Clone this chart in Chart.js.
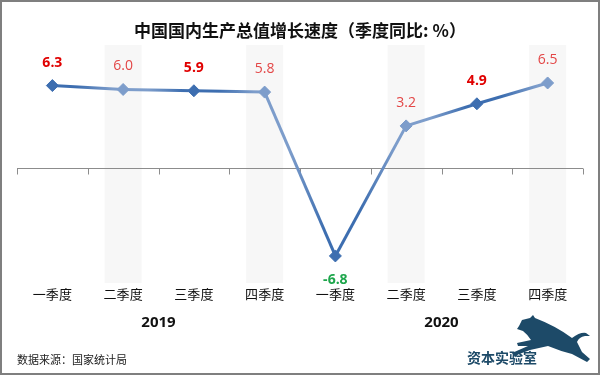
<!DOCTYPE html>
<html>
<head>
<meta charset="utf-8">
<script src="https://cdn.jsdelivr.net/npm/chart.js@4"></script>
<style>
  html, body { margin: 0; padding: 0; background: #fff; }
  #wrap { width: 600px; height: 375px; position: relative; }
</style>
</head>
<body>
<div id="wrap"><canvas id="c" width="600" height="375"></canvas></div>
<script>
// GDP growth by quarter, year-on-year %
const quarters = ['一季度', '二季度', '三季度', '四季度', '一季度', '二季度', '三季度', '四季度'];
const years = ['2019', '2020'];
const gdpGrowth = [6.3, 6.0, 5.9, 5.8, -6.8, 3.2, 4.9, 6.5];

const DARK = '#3d6eb0';
const LIGHT = '#7d9dcb';
const CJK = '"Noto Sans CJK SC", "Open Sans", sans-serif';
const NUM = '"Open Sans", "Noto Sans", sans-serif';

const el = document.getElementById('c');

// light grey column behind every second quarter
const bands = {
  id: 'bands',
  beforeDatasetsDraw(chart) {
    const { ctx, chartArea: a, scales: { x } } = chart;
    ctx.save();
    ctx.fillStyle = '#f7f7f7';
    quarters.forEach((q, i) => {
      if (i % 2 === 0) return;
      const px = x.getPixelForValue(i);
      ctx.fillRect(px - 18.5, a.top, 37, a.bottom - a.top);
    });
    // zero line with tick marks between categories
    const y0 = Math.round(chart.scales.y.getPixelForValue(0)) + 0.5;
    const w = x.getPixelForValue(1) - x.getPixelForValue(0);
    ctx.strokeStyle = '#8c8c8c';
    ctx.lineWidth = 1;
    ctx.beginPath();
    ctx.moveTo(a.left, y0);
    ctx.lineTo(a.right, y0);
    for (let i = 0; i <= quarters.length; i++) {
      const px = Math.round(x.getPixelForValue(i) - w / 2) + 0.5;
      ctx.moveTo(px, y0);
      ctx.lineTo(px, y0 + 6);
    }
    ctx.stroke();
    ctx.restore();
  }
};

const labels = {
  id: 'labels',
  afterDatasetsDraw(chart) {
    const { ctx } = chart;
    const pts = chart.getDatasetMeta(0).data;
    ctx.save();
    ctx.textAlign = 'center';
    ctx.textBaseline = 'middle';
    pts.forEach((p, i) => {
      const v = gdpGrowth[i];
      const bold = i % 2 === 0;
      ctx.font = (bold ? 'bold ' : '') + '14px ' + NUM;
      ctx.fillStyle = v < 0 ? '#1ea64c' : (bold ? '#e00000' : '#e34646');
      ctx.fillText(v.toFixed(1), p.x, v < 0 ? p.y + 24 : p.y - 23);
    });
    ctx.restore();
  }
};

const decor = {
  id: 'decor',
  afterDraw(chart) {
    const { ctx } = chart;
    ctx.save();
    // frame
    ctx.strokeStyle = '#7f7f7f';
    ctx.lineWidth = 2;
    ctx.strokeRect(1, 1, 598, 373);
    // source note
    ctx.fillStyle = '#222';
    ctx.font = '11px ' + CJK;
    ctx.textBaseline = 'middle';
    ctx.textAlign = 'left';
    ctx.fillText('数据来源：国家统计局', 17, 360);
    // logo
    ctx.fillStyle = '#1d4a68';
    ctx.font = 'bold 14px ' + CJK;
    ctx.fillText('资本实验室', 467, 358);
    ctx.beginPath();
    ctx.moveTo(519, 326);
    ctx.lineTo(522, 320);
    ctx.lineTo(530, 318);
    ctx.lineTo(533, 315);
    ctx.lineTo(535, 318);
    ctx.quadraticCurveTo(556, 326, 572, 338);
    ctx.quadraticCurveTo(580, 332, 586, 333);
    ctx.lineTo(590, 336);
    ctx.lineTo(585, 336);
    ctx.quadraticCurveTo(579, 337, 577, 342);
    ctx.quadraticCurveTo(580, 348, 582, 352);
    ctx.lineTo(590, 359);
    ctx.lineTo(587, 362);
    ctx.lineTo(572, 354);
    ctx.quadraticCurveTo(560, 351, 548, 346);
    ctx.lineTo(530, 350);
    ctx.lineTo(514, 356);
    ctx.lineTo(512, 353);
    ctx.lineTo(528, 346);
    ctx.lineTo(518, 346);
    ctx.lineTo(517, 343);
    ctx.lineTo(531, 340);
    ctx.quadraticCurveTo(527, 334, 523, 331);
    ctx.lineTo(517, 329);
    ctx.closePath();
    ctx.fill();
    ctx.restore();
  }
};

function segColor(c) {
  const g = el.getContext('2d').createLinearGradient(c.p0.x, 0, c.p1.x, 0);
  g.addColorStop(0.35, c.p0DataIndex % 2 === 0 ? DARK : LIGHT);
  g.addColorStop(0.85, c.p1DataIndex % 2 === 0 ? DARK : LIGHT);
  return g;
}

new Chart(el, {
  type: 'line',
  data: {
    labels: quarters,
    datasets: [{
      data: gdpGrowth,
      borderWidth: 3,
      borderColor: DARK,
      segment: { borderColor: segColor },
      pointStyle: 'rectRot',
      pointRadius: 6,
      pointBackgroundColor: gdpGrowth.map((v, i) => i % 2 === 0 ? DARK : LIGHT),
      pointBorderColor: gdpGrowth.map((v, i) => i % 2 === 0 ? DARK : LIGHT),
      pointBorderWidth: 1,
      tension: 0
    }]
  },
  options: {
    responsive: false,
    animation: false,
    layout: { padding: { left: 17, right: 17, top: 0, bottom: 35 } },
    scales: {
      y: { display: false, min: -8.88, max: 9.42 },
      x: {
        offset: true,
        grid: { display: false, drawTicks: false },
        border: { display: false },
        ticks: { color: '#111', font: { family: CJK, size: 13 }, padding: 3 },
        afterFit(s) { s.height = 24; }
      },
      x2: {
        type: 'category',
        labels: years,
        offset: true,
        position: 'bottom',
        grid: { display: false, drawTicks: false },
        border: { display: false },
        ticks: { color: '#111', font: { family: NUM, size: 15, weight: 'bold' }, padding: 7 },
        afterFit(s) { s.height = 33; }
      }
    },
    plugins: {
      legend: { display: false },
      tooltip: { enabled: false },
      title: {
        display: true,
        text: '中国国内生产总值增长速度（季度同比: %）',
        color: '#111',
        font: { family: CJK, size: 17, weight: 'bold' },
        padding: { top: 20, bottom: 4.6 }
      }
    }
  },
  plugins: [bands, labels, decor]
});
</script>
</body>
</html>
